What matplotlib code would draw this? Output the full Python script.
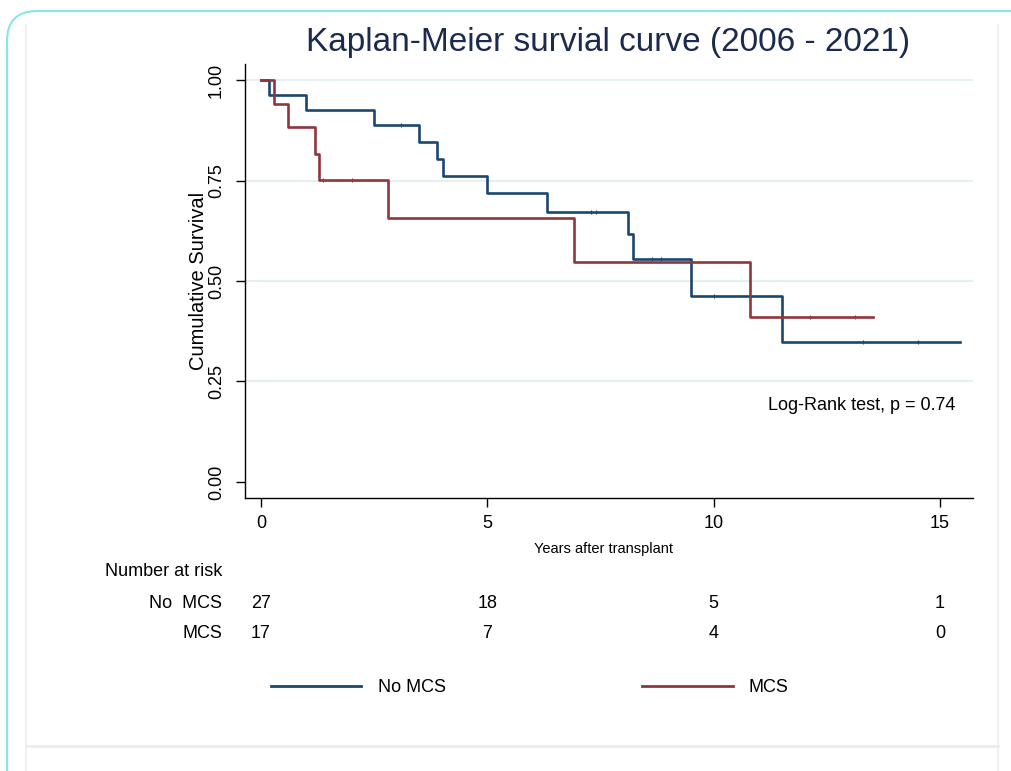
import numpy as np
import matplotlib
matplotlib.use('Agg')
import matplotlib.pyplot as plt
from matplotlib.lines import Line2D
from matplotlib.patches import FancyBboxPatch
from matplotlib.transforms import IdentityTransform, blended_transform_factory

plt.rcParams['font.family'] = ['Liberation Sans', 'DejaVu Sans']

# Kaplan-Meier steps (time in years, survival)
no_mcs_times = [0, 0.18, 0.99, 2.50, 3.50, 3.89, 4.01, 5.00, 6.31, 8.11, 8.21, 9.51, 11.52, 15.44]
no_mcs_surv = [1.0, 0.963, 0.926, 0.889, 0.847, 0.804, 0.762, 0.720, 0.672, 0.616, 0.555, 0.462, 0.347, 0.347]
no_mcs_censor = [3.09, 7.30, 7.41, 8.63, 8.83, 10.01, 13.31, 14.52]

mcs_times = [0, 0.29, 0.59, 1.19, 1.29, 2.81, 6.91, 10.81, 13.53]
mcs_surv = [1.0, 0.941, 0.882, 0.816, 0.751, 0.657, 0.547, 0.411, 0.411]
mcs_censor = [1.38, 2.00, 12.12, 13.12]

# number at risk table
risk_times = [0, 5, 10, 15]
risk_no_mcs = [27, 18, 5, 1]
risk_mcs = [17, 7, 4, 0]

yticks = [0.0, 0.25, 0.50, 0.75, 1.00]
xticks = [0, 5, 10, 15]

blue = '#1a476f'
red = '#90353b'

fig = plt.figure(figsize=(10.12, 7.71), dpi=100)
fig.patch.set_facecolor('white')

# page decoration (rounded cyan card and light separators)
fig.add_artist(FancyBboxPatch((7, -40), 1150, 800, boxstyle='round,pad=0,rounding_size=30',
                              transform=IdentityTransform(), fill=False, ec='#86e6ee', lw=1.5))
for xx in [26 / 1012, 998 / 1012]:
    fig.add_artist(Line2D([xx, xx], [0, 1 - 25 / 771], transform=fig.transFigure, color='#edf1f3', lw=1.5))
fig.add_artist(Line2D([26 / 1012, 998 / 1012], [1 - 746 / 771] * 2, transform=fig.transFigure,
                      color='#e8eef0', lw=2))

ax = fig.add_axes([0.2421, 0.3541, 0.7194, 0.5629])
ax.set_xlim(-0.353, 15.73)
ax.set_ylim(-0.04, 1.04)

# horizontal grid lines
ax.hlines(yticks[1:], -0.353, 15.73, color='#e6eff1', lw=1.5, zorder=0)

ax.step(no_mcs_times, no_mcs_surv, where='post', color=blue, lw=1.9, zorder=2)
ax.step(mcs_times, mcs_surv, where='post', color=red, lw=1.9, zorder=3)

# censoring marks (tiny ticks)
def level(times, surv, t):
    return surv[np.searchsorted(times, t, side='right') - 1]

ax.plot(no_mcs_censor, [level(no_mcs_times, no_mcs_surv, c) for c in no_mcs_censor],
        ls='none', marker='|', ms=2.5, mew=0.8, color=blue, zorder=2)
ax.plot(mcs_censor, [level(mcs_times, mcs_surv, c) for c in mcs_censor],
        ls='none', marker='|', ms=2.5, mew=0.8, color=red, zorder=3)

for s in ['top', 'right']:
    ax.spines[s].set_visible(False)
for s in ['left', 'bottom']:
    ax.spines[s].set_linewidth(1)
    ax.spines[s].set_color('black')

ax.set_xticks(xticks)
ax.set_xticklabels([str(x) for x in xticks], fontsize=13)
ax.set_yticks(yticks)
ax.set_yticklabels(['%.2f' % y for y in yticks], fontsize=13, rotation=90, va='center')
ax.tick_params(axis='both', length=6.5, width=1, direction='out')
ax.tick_params(axis='x', pad=6)
ax.tick_params(axis='y', pad=8)

ax.set_xlabel('Years after transplant', fontsize=10.5)
ax.xaxis.set_label_coords(0.493, -0.101)
ax.set_ylabel('Cumulative Survival', fontsize=14.5)
ax.yaxis.set_label_coords(-0.051, 0.5)

ax.text(15.33, 0.19, 'Log-Rank test, p = 0.74', ha='right', va='center', fontsize=13)

fig.text(608 / 1012, 1 - 42 / 771, 'Kaplan-Meier survial curve (2006 - 2021)', ha='center', va='center',
         fontsize=24, color='#1c2a4e')

# number at risk
fig.text(105 / 1012, 1 - 572 / 771, 'Number at risk', ha='left', va='center', fontsize=13)
fig.text(222 / 1012, 1 - 604 / 771, 'No  MCS', ha='right', va='center', fontsize=13)
fig.text(222 / 1012, 1 - 633 / 771, 'MCS', ha='right', va='center', fontsize=13)
trans = blended_transform_factory(ax.transData, fig.transFigure)
for t, a, b in zip(risk_times, risk_no_mcs, risk_mcs):
    ax.text(t, 1 - 604 / 771, str(a), transform=trans, ha='center', va='center', fontsize=13)
    ax.text(t, 1 - 633 / 771, str(b), transform=trans, ha='center', va='center', fontsize=13)

handles = [Line2D([], [], color=blue, lw=2), Line2D([], [], color=red, lw=2)]
fig.legend(handles, ['No MCS', 'MCS'], ncol=2, frameon=False, loc='center',
           bbox_to_anchor=(0.5237, 0.108), handlelength=5, columnspacing=10.9,
           handletextpad=0.9, fontsize=13)

fig.savefig('out.png', dpi=100)
